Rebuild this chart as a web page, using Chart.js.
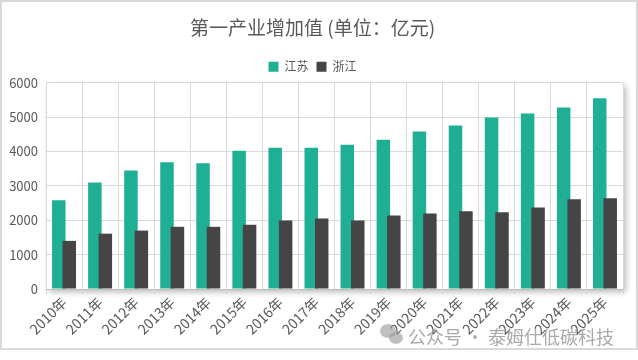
<!DOCTYPE html>
<html>
<head>
<meta charset="utf-8">
<script src="https://cdn.jsdelivr.net/npm/chart.js@4"></script>
<style>
  html, body { margin: 0; padding: 0; background: #fff; }
  body { width: 638px; height: 360px; position: relative; overflow: hidden; }
  #frame { position: absolute; left: 0; top: 0; width: 634px; height: 346px; border: 2px solid #d9d9d9; }
  #wrap { position: absolute; left: 0; top: 0; width: 634px; height: 346px; }
  .mark { position: absolute; left: 408px; top: 323px; font: 18px 'Noto Sans CJK SC', sans-serif; color: rgba(140,140,140,0.75); white-space: nowrap; }
  .bub { position: absolute; border-radius: 50%; background: rgba(150,150,150,0.6); }
</style>
</head>
<body>
<div id="frame"><div id="wrap"><canvas id="chart"></canvas></div></div>
<div class="bub" style="left:380px;top:324px;width:16px;height:14px;"></div>
<div class="bub" style="left:389px;top:332px;width:14px;height:12px;"></div>
<div class="mark">公众号 · 泰姆仕低碳科技</div>
<script>
// ---- data ----
const years = ['2010年', '2011年', '2012年', '2013年', '2014年', '2015年', '2016年', '2017年',
  '2018年', '2019年', '2020年', '2021年', '2022年', '2023年', '2024年', '2025年'];
const jiangsu = [2580, 3100, 3450, 3690, 3660, 4020, 4110, 4110, 4200, 4340, 4580, 4760, 4990, 5110, 5280, 5550];
const zhejiang = [1400, 1610, 1700, 1810, 1810, 1870, 1990, 2050, 1990, 2140, 2200, 2260, 2230, 2370, 2610, 2640];
const yMin = 0, yMax = 6000, yStep = 1000;

const GREEN = '#1faf95';
const DARK = '#454545';
const TEXT = '#595959';
const GRID = '#d9d9d9';

Chart.defaults.font.family = "'Noto Sans CJK SC', 'Microsoft YaHei', sans-serif";
Chart.defaults.color = TEXT;

// plot area with soft shadow (Excel style)
const plotShadow = {
  id: 'plotShadow',
  beforeDraw(chart) {
    const { ctx, chartArea: a } = chart;
    ctx.save();
    ctx.shadowColor = 'rgba(0,0,0,0.28)';
    ctx.shadowBlur = 6;
    ctx.shadowOffsetX = 3;
    ctx.shadowOffsetY = 3;
    ctx.fillStyle = '#fff';
    ctx.fillRect(a.left, a.top, a.right - a.left, a.bottom - a.top);
    ctx.restore();
  }
};

// second series overlaps the first, so draw it last
const secondOnTop = {
  id: 'secondOnTop',
  beforeDatasetDraw(chart, args) {
    if (args.index === 1) return false;
  },
  afterDatasetsDraw(chart) {
    const meta = chart.getDatasetMeta(1);
    if (meta.visible) meta.controller.draw();
  }
};

new Chart(document.getElementById('chart'), {
  type: 'bar',
  data: {
    labels: years,
    datasets: [
      { label: '江苏', data: jiangsu, backgroundColor: GREEN, categoryPercentage: 0.58, barPercentage: 1.29 },
      { label: '浙江', data: zhejiang, backgroundColor: DARK, categoryPercentage: 0.58, barPercentage: 1.29 }
    ]
  },
  options: {
    responsive: true,
    maintainAspectRatio: false,
    animation: false,
    layout: { padding: { left: 0, right: 13, top: 0, bottom: 0 } },
    plugins: {
      title: {
        display: true,
        text: '第一产业增加值 (单位：亿元)',
        color: TEXT,
        font: { size: 19, weight: 'normal' },
        padding: { top: 14, bottom: 14 }
      },
      legend: {
        display: true,
        labels: { boxWidth: 10, boxHeight: 10, padding: 8, font: { size: 12 }, color: TEXT }
      },
      tooltip: { enabled: false }
    },
    scales: {
      x: {
        grid: { color: GRID, offset: true, drawTicks: true, tickLength: 5 },
        border: { color: '#bfbfbf' },
        ticks: { minRotation: 45, maxRotation: 45, font: { size: 14 }, color: TEXT, padding: 0 },
        afterFit(scale) { scale.height = 59; }
      },
      y: {
        min: yMin, max: yMax,
        grid: { color: GRID, drawTicks: false },
        border: { display: false },
        ticks: { stepSize: yStep, font: { size: 13 }, color: TEXT, padding: 8, callback: v => String(v) },
        afterFit(scale) { scale.width = 44; }
      }
    }
  },
  plugins: [plotShadow, secondOnTop]
});
</script>
</body>
</html>
